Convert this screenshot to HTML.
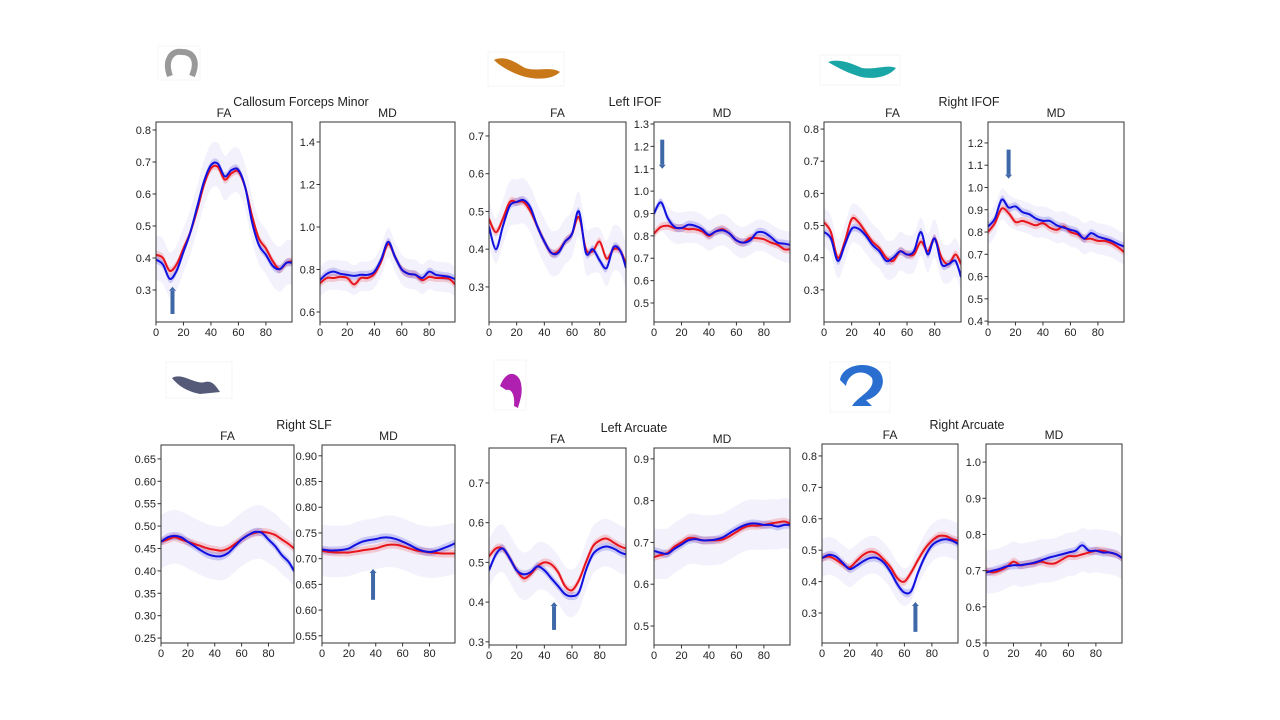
<!DOCTYPE html>
<html><head><meta charset="utf-8"><style>
html,body{margin:0;padding:0;background:#fff}
svg{display:block;font-family:"Liberation Sans","DejaVu Sans",sans-serif}
</style></head><body>
<svg id="fig" width="1280" height="720" viewBox="0 0 1280 720">
<g id="thumbs">
 <g><rect x="158" y="46" width="42" height="34" fill="none" stroke="#eee" stroke-width="0.6"/><path d="M170 76 C164 60,172 50,182 52 C194 52,198 62,192 76" fill="none" stroke="#999" stroke-width="6"/></g>
 <g><rect x="488" y="52" width="76" height="34" fill="none" stroke="#eee" stroke-width="0.6"/><path d="M494 60 C505 55,515 62,525 68 C538 72,550 66,560 72 C552 80,535 80,522 76 C510 72,500 66,494 60Z" fill="#c87818"/></g>
 <g><rect x="820" y="55" width="80" height="30" fill="none" stroke="#eee" stroke-width="0.6"/><path d="M828 62 C840 58,852 64,862 68 C875 70,888 64,896 68 C888 78,870 80,858 76 C845 72,835 66,828 62Z" fill="#1aa6a6"/></g>
 <g><rect x="166" y="362" width="66" height="36" fill="none" stroke="#eee" stroke-width="0.6"/><path d="M172 378 C182 372,195 385,205 382 C212 380,216 386,220 392 L200 394 C190 392,180 388,172 378Z" fill="#555a78"/></g>
 <g><rect x="494" y="360" width="32" height="50" fill="none" stroke="#eee" stroke-width="0.6"/><path d="M500 386 C506 370,516 372,520 380 C524 392,520 400,518 408 L514 406 C515 396,512 388,506 390Z" fill="#b020b0"/></g>
 <g><rect x="830" y="362" width="60" height="50" fill="none" stroke="#eee" stroke-width="0.6"/><path d="M840 380 C842 364,870 360,880 372 C888 384,878 398,866 400 L872 406 L852 406 C858 396,876 390,872 378 C864 368,848 372,846 386Z" fill="#2a6fd0"/></g>
</g>
<g id="titles" font-size="12.5" fill="#222" text-anchor="middle">
 <text x="301" y="106">Callosum Forceps Minor</text>
 <text x="635" y="106">Left IFOF</text>
 <text x="969" y="106">Right IFOF</text>
 <text x="304" y="429">Right SLF</text>
 <text x="634" y="432">Left Arcuate</text>
 <text x="967" y="429">Right Arcuate</text>
</g>
<g id="panels"></g>
</svg>
<script>
const xs=[0,5,10,15,20,25,30,35,40,45,50,55,60,65,70,75,80,85,90,95,99];
const xTicks=[0,20,40,60,80];
const cfmFAred=[0.41,0.40,0.36,0.38,0.43,0.48,0.55,0.63,0.68,0.685,0.645,0.665,0.67,0.62,0.53,0.46,0.43,0.39,0.365,0.385,0.39];
const cfmFAblue=[0.395,0.38,0.335,0.36,0.42,0.48,0.56,0.64,0.69,0.695,0.655,0.675,0.675,0.62,0.51,0.44,0.41,0.375,0.365,0.385,0.385];
const cfmMDred=[0.735,0.76,0.76,0.765,0.76,0.73,0.76,0.76,0.78,0.84,0.92,0.86,0.80,0.78,0.775,0.75,0.765,0.76,0.76,0.755,0.73];
const cfmMDblue=[0.75,0.78,0.79,0.78,0.775,0.77,0.775,0.775,0.79,0.85,0.93,0.86,0.80,0.78,0.775,0.76,0.79,0.775,0.77,0.765,0.755];
const lifFAred=[0.48,0.445,0.48,0.525,0.525,0.525,0.50,0.46,0.42,0.39,0.395,0.42,0.44,0.485,0.40,0.395,0.42,0.375,0.40,0.395,0.36];
const lifFAblue=[0.46,0.40,0.46,0.515,0.525,0.53,0.51,0.46,0.42,0.39,0.39,0.42,0.44,0.50,0.39,0.40,0.37,0.35,0.405,0.395,0.35];
const lifMDred=[0.81,0.84,0.845,0.835,0.835,0.83,0.83,0.82,0.80,0.82,0.83,0.81,0.78,0.77,0.79,0.79,0.785,0.77,0.76,0.74,0.74];
const lifMDblue=[0.90,0.95,0.88,0.84,0.835,0.85,0.845,0.83,0.805,0.82,0.825,0.81,0.78,0.77,0.78,0.815,0.815,0.795,0.77,0.765,0.76];
const rifFAred=[0.51,0.48,0.40,0.45,0.52,0.51,0.48,0.45,0.43,0.40,0.39,0.42,0.41,0.41,0.45,0.42,0.46,0.40,0.38,0.41,0.38];
const rifFAblue=[0.48,0.46,0.39,0.44,0.49,0.49,0.47,0.44,0.42,0.39,0.40,0.42,0.41,0.42,0.48,0.41,0.46,0.38,0.38,0.39,0.34];
const rifMDred=[0.80,0.84,0.905,0.885,0.845,0.85,0.84,0.83,0.84,0.82,0.81,0.825,0.80,0.79,0.77,0.77,0.76,0.76,0.75,0.73,0.71];
const rifMDblue=[0.825,0.86,0.945,0.91,0.915,0.89,0.88,0.86,0.85,0.85,0.83,0.82,0.81,0.80,0.77,0.795,0.78,0.77,0.76,0.745,0.735];
const slfFAred=[0.465,0.47,0.475,0.47,0.465,0.46,0.455,0.45,0.447,0.445,0.45,0.46,0.47,0.48,0.485,0.487,0.485,0.48,0.47,0.46,0.45];
const slfFAblue=[0.465,0.475,0.478,0.475,0.465,0.455,0.445,0.437,0.433,0.433,0.44,0.455,0.47,0.48,0.487,0.485,0.47,0.455,0.435,0.42,0.40];
const slfMDred=[0.715,0.713,0.712,0.712,0.712,0.714,0.716,0.718,0.72,0.724,0.727,0.727,0.724,0.72,0.716,0.714,0.712,0.711,0.71,0.71,0.71];
const slfMDblue=[0.718,0.716,0.716,0.717,0.72,0.727,0.733,0.736,0.738,0.741,0.741,0.738,0.733,0.727,0.72,0.715,0.713,0.715,0.72,0.725,0.73];
const larFAred=[0.515,0.535,0.535,0.51,0.48,0.46,0.47,0.49,0.50,0.495,0.475,0.44,0.43,0.455,0.50,0.54,0.555,0.56,0.55,0.54,0.535];
const larFAblue=[0.48,0.52,0.535,0.51,0.48,0.47,0.475,0.49,0.48,0.46,0.44,0.42,0.415,0.425,0.48,0.52,0.535,0.54,0.535,0.525,0.52];
const larMDred=[0.665,0.67,0.675,0.69,0.70,0.71,0.71,0.705,0.705,0.705,0.707,0.715,0.725,0.735,0.74,0.74,0.742,0.745,0.748,0.75,0.745];
const larMDblue=[0.68,0.675,0.673,0.685,0.695,0.705,0.708,0.705,0.705,0.707,0.712,0.722,0.732,0.74,0.745,0.745,0.742,0.742,0.738,0.742,0.742];
const rarFAred=[0.475,0.48,0.47,0.455,0.445,0.465,0.485,0.495,0.49,0.47,0.445,0.41,0.40,0.43,0.47,0.505,0.53,0.545,0.545,0.535,0.53];
const rarFAblue=[0.475,0.485,0.48,0.46,0.44,0.45,0.465,0.475,0.475,0.46,0.43,0.39,0.365,0.37,0.43,0.48,0.515,0.53,0.535,0.53,0.52];
const rarMDred=[0.70,0.695,0.70,0.71,0.725,0.715,0.718,0.72,0.725,0.72,0.72,0.73,0.74,0.74,0.745,0.75,0.755,0.755,0.75,0.745,0.735];
const rarMDblue=[0.695,0.70,0.705,0.712,0.715,0.715,0.718,0.722,0.728,0.735,0.74,0.745,0.75,0.755,0.77,0.755,0.755,0.75,0.75,0.745,0.735];
const faTicks1=[0.3,0.4,0.5,0.6,0.7,0.8];
const mdTicks1=[0.6,0.8,1.0,1.2,1.4];
const faTicks2=[0.3,0.4,0.5,0.6,0.7];
const mdTicks2=[0.5,0.6,0.7,0.8,0.9,1.0,1.1,1.2,1.3];
const mdTicks3=[0.4,0.5,0.6,0.7,0.8,0.9,1.0,1.1,1.2];
const faTicksSlf=[0.25,0.30,0.35,0.40,0.45,0.50,0.55,0.60,0.65];
const mdTicksSlf=[0.55,0.60,0.65,0.70,0.75,0.80,0.85,0.90];
const mdTicksLar=[0.5,0.6,0.7,0.8,0.9];
const mdTicksRar=[0.5,0.6,0.7,0.8,0.9,1.0];
const spreadFA=[0.07,0.06,0.06,0.06,0.06,0.06];
const spreadMD=[0.07,0.07,0.07,0.05,0.06,0.06];

const NS='http://www.w3.org/2000/svg';
const root=document.getElementById('panels');
function mk(tag,attrs,parent){const e=document.createElementNS(NS,tag);for(const k in attrs)e.setAttribute(k,attrs[k]);parent.appendChild(e);return e;}
function smooth(pts){let d='M'+pts[0][0].toFixed(1)+' '+pts[0][1].toFixed(1);
 for(let i=0;i<pts.length-1;i++){const p0=pts[i-1]||pts[i],p1=pts[i],p2=pts[i+1],p3=pts[i+2]||p2;
  const c1=[p1[0]+(p2[0]-p0[0])/6,p1[1]+(p2[1]-p0[1])/6],c2=[p2[0]-(p3[0]-p1[0])/6,p2[1]-(p3[1]-p1[1])/6];
  d+=' C'+c1[0].toFixed(1)+' '+c1[1].toFixed(1)+','+c2[0].toFixed(1)+' '+c2[1].toFixed(1)+','+p2[0].toFixed(1)+' '+p2[1].toFixed(1);}
 return d;}
function fmt(v,dec){return v.toFixed(dec);}
const panels=[
 {id:'callosum-fa',t:'FA',x0:156,x1:292,y0:122,y1:322,ymin:0.2,ymax:0.825,ticks:faTicks1,dec:1,red:cfmFAred,blue:cfmFAblue,sp:spreadFA[0],arrow:[12,0.225,0.31]},
 {id:'callosum-md',t:'MD',x0:320,x1:455,y0:122,y1:322,ymin:0.553,ymax:1.494,ticks:mdTicks1,dec:1,red:cfmMDred,blue:cfmMDblue,sp:spreadMD[0]},
 {id:'left-ifof-fa',t:'FA',x0:489,x1:626,y0:122,y1:322,ymin:0.207,ymax:0.737,ticks:faTicks2,dec:1,red:lifFAred,blue:lifFAblue,sp:spreadFA[1]},
 {id:'left-ifof-md',t:'MD',x0:654,x1:790,y0:122,y1:322,ymin:0.415,ymax:1.309,ticks:mdTicks2,dec:1,red:lifMDred,blue:lifMDblue,sp:spreadMD[1],arrow:[6,1.23,1.10]},
 {id:'right-ifof-fa',t:'FA',x0:824,x1:961,y0:122,y1:322,ymin:0.2,ymax:0.822,ticks:faTicks1,dec:1,red:rifFAred,blue:rifFAblue,sp:spreadFA[2]},
 {id:'right-ifof-md',t:'MD',x0:988,x1:1124,y0:122,y1:322,ymin:0.396,ymax:1.294,ticks:mdTicks3,dec:1,red:rifMDred,blue:rifMDblue,sp:spreadMD[2],arrow:[15,1.17,1.04]},
 {id:'right-slf-fa',t:'FA',x0:161,x1:294,y0:445,y1:643,ymin:0.239,ymax:0.681,ticks:faTicksSlf,dec:2,red:slfFAred,blue:slfFAblue,sp:spreadFA[3]},
 {id:'right-slf-md',t:'MD',x0:322,x1:455,y0:445,y1:643,ymin:0.536,ymax:0.921,ticks:mdTicksSlf,dec:2,red:slfMDred,blue:slfMDblue,sp:spreadMD[3],arrow:[38,0.62,0.68]},
 {id:'left-arcuate-fa',t:'FA',x0:489,x1:626,y0:448,y1:645,ymin:0.292,ymax:0.788,ticks:faTicks2,dec:1,red:larFAred,blue:larFAblue,sp:spreadFA[4],arrow:[47,0.33,0.40]},
 {id:'left-arcuate-md',t:'MD',x0:654,x1:790,y0:448,y1:645,ymin:0.4545,ymax:0.926,ticks:mdTicksLar,dec:1,red:larMDred,blue:larMDblue,sp:spreadMD[4]},
 {id:'right-arcuate-fa',t:'FA',x0:822,x1:958,y0:444,y1:643,ymin:0.2045,ymax:0.838,ticks:faTicks1,dec:1,red:rarFAred,blue:rarFAblue,sp:spreadFA[5],arrow:[68,0.24,0.335]},
 {id:'right-arcuate-md',t:'MD',x0:986,x1:1122,y0:444,y1:643,ymin:0.5,ymax:1.05,ticks:mdTicksRar,dec:1,red:rarMDred,blue:rarMDblue,sp:spreadMD[5]}
];
panels.forEach(function(p){
 const g=mk('g',{},root);
 
 
 const sx=v=>p.x0+(v/99)*(p.x1-p.x0);
 const sy=v=>p.y1-(v-p.ymin)/(p.ymax-p.ymin)*(p.y1-p.y0);
 const cid='clip-'+p.id;
 const cp=mk('clipPath',{id:cid},g);mk('rect',{x:p.x0,y:p.y0,width:p.x1-p.x0,height:p.y1-p.y0},cp);
 const pg=mk('g',{'clip-path':'url(#'+cid+')'},g);
 const mean=p.red.map((v,i)=>(v+p.blue[i])/2);
 const up=xs.map((x,i)=>[sx(x),sy(mean[i]+p.sp)]),dn=xs.map((x,i)=>[sx(x),sy(mean[i]-p.sp)]).reverse();
 const haze=mk('path',{d:smooth(up)+' L'+smooth(dn).slice(1)+' Z',fill:'#8a7ad8','fill-opacity':0.1},pg);
 
 
 [['red','#e8141c',p.red],['blue','#1010e0',p.blue]].forEach(function(s){
  const u=xs.map((x,i)=>[sx(x),sy(s[2][i]+0.012*(p.ymax-p.ymin)/0.6)]),l=xs.map((x,i)=>[sx(x),sy(s[2][i]-0.012*(p.ymax-p.ymin)/0.6)]).reverse();
  const band=mk('path',{d:smooth(u)+' L'+smooth(l).slice(1)+' Z',fill:s[1],'fill-opacity':0.18},pg);
  
  
 });
 [['red','#e8141c',p.red],['blue','#1010e0',p.blue]].forEach(function(s){
  const ln=mk('path',{d:smooth(xs.map((x,i)=>[sx(x),sy(s[2][i])])),fill:'none',stroke:s[1],'stroke-width':2},pg);
  
  
 });
 if(p.arrow){const ax=sx(p.arrow[0]),ya=sy(p.arrow[1]),yb=sy(p.arrow[2]);const dir=yb<ya?-1:1;
  const ar=mk('g',{},pg);
  
  
  mk('rect',{x:ax-2,y:Math.min(ya,yb-dir*4),width:4,height:Math.abs(yb-dir*4-ya),fill:'#3f68a8'},ar);
  mk('path',{d:'M'+(ax-3.5)+' '+(yb-dir*4)+' L'+(ax+3.5)+' '+(yb-dir*4)+' L'+ax+' '+yb+'Z',fill:'#3f68a8'},ar);}
 const fr=mk('rect',{x:p.x0,y:p.y0,width:p.x1-p.x0,height:p.y1-p.y0,fill:'none',stroke:'#333','stroke-width':1},g);
 
 
 const tt=mk('text',{x:(p.x0+p.x1)/2,y:p.y0-5,'text-anchor':'middle','font-size':12,fill:'#222'},g);tt.textContent=p.t;
 
 
 xTicks.forEach(function(v){const x=sx(v);mk('line',{x1:x,x2:x,y1:p.y1,y2:p.y1+3.5,stroke:'#333'},g);
  const t=mk('text',{x:x,y:p.y1+14,'text-anchor':'middle','font-size':11,fill:'#222'},g);t.textContent=v;
  
  });
 p.ticks.forEach(function(v){const y=sy(v);if(y<p.y0-1||y>p.y1+1)return;mk('line',{x1:p.x0-3.5,x2:p.x0,y1:y,y2:y,stroke:'#333'},g);
  const t=mk('text',{x:p.x0-5,y:y+4,'text-anchor':'end','font-size':11,fill:'#222'},g);t.textContent=fmt(v,p.dec);
  
  });
});
</script>
</body></html>
